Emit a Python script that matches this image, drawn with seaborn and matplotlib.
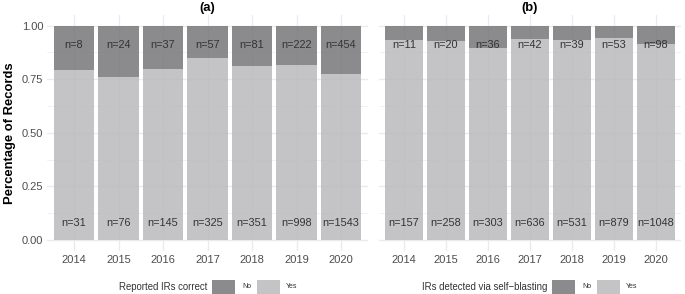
import matplotlib
matplotlib.use("Agg")
import matplotlib.pyplot as plt
from matplotlib.patches import Rectangle
import seaborn as sns
import pandas as pd

# counts per year
years = [2014, 2015, 2016, 2017, 2018, 2019, 2020]
correct_no = [8, 24, 37, 57, 81, 222, 454]
correct_yes = [31, 76, 145, 325, 351, 998, 1543]
selfblast_no = [11, 20, 36, 42, 39, 53, 98]
selfblast_yes = [157, 258, 303, 636, 531, 879, 1048]

panel_titles = ["(a)", "(b)"]
legend_titles = ["Reported IRs correct", "IRs detected via self\u2212blasting"]
answers = ["No", "Yes"]

dark = "#7b7b7e"
light = "#bcbcbf"
palette = {"No": dark, "Yes": light}

sns.set_theme(style="whitegrid")
plt.rcParams["font.family"] = ["Liberation Sans", "DejaVu Sans"]


def to_long(no, yes):
    return pd.DataFrame({
        "year": years * 2,
        "answer": ["No"] * len(years) + ["Yes"] * len(years),
        "count": list(no) + list(yes),
    })


W, H = 685, 294
fig = plt.figure(figsize=(W / 100, H / 100), dpi=100)

# axes boxes in pixels: left, right
boxes = [(47.3, 367.7), (378.8, 681.2)]
top_px, bot_px = 15.0, 250.7
data = [(correct_no, correct_yes), (selfblast_no, selfblast_yes)]
leg_title_right = [207, 547]

for k, ((l, r), (no, yes)) in enumerate(zip(boxes, data)):
    ax = fig.add_axes([l / W, 1 - bot_px / H, (r - l) / W, (bot_px - top_px) / H])
    df = to_long(no, yes)
    sns.histplot(data=df, x="year", hue="answer", weights="count",
                 multiple="fill", discrete=True, shrink=0.9,
                 hue_order=["No", "Yes"], palette=palette, alpha=0.88,
                 linewidth=0, legend=False, ax=ax)

    # n= labels, fixed heights like the original
    for yr, n_no, n_yes in zip(years, no, yes):
        ax.text(yr, 0.91, f"n={n_no}", ha="center", va="center",
                fontsize=7.8, color="#333333")
        ax.text(yr, 0.08, f"n={n_yes}", ha="center", va="center",
                fontsize=7.8, color="#333333")

    ax.set_xlim(years[0] - 0.6, years[-1] + 0.6)
    ax.set_ylim(-0.05, 1.05)
    ax.set_xticks(years)
    ax.set_xticklabels([str(y) for y in years])
    ax.set_yticks([0, 0.25, 0.5, 0.75, 1.0])
    ax.set_yticks([0.125, 0.375, 0.625, 0.875], minor=True)
    if k == 0:
        ax.set_yticklabels(["0.00", "0.25", "0.50", "0.75", "1.00"])
        ax.set_ylabel("Percentage of Records", fontsize=9.4,
                      fontweight="bold", color="black", labelpad=4)
    else:
        ax.set_yticklabels([])
        ax.set_ylabel("")
    ax.set_xlabel("")
    ax.tick_params(axis="both", which="both", length=0, labelsize=8,
                   labelcolor="#4d4d4d", pad=3)
    ax.grid(True, which="major", color="#ebebeb", linewidth=1.0)
    ax.grid(True, which="minor", axis="y", color="#ebebeb", linewidth=0.5)
    ax.set_axisbelow(True)
    for s in ax.spines.values():
        s.set_visible(False)
    ax.set_facecolor("white")

    # panel title above the axes
    fig.text((l + r) / 2 / W, 1 - 8 / H, panel_titles[k], ha="center",
             va="center", fontsize=9.4, fontweight="bold", color="black")

    # legend row drawn in figure pixels
    tr = leg_title_right[k]
    yc = 287
    fig.text(tr / W, 1 - yc / H, legend_titles[k], ha="right", va="center",
             fontsize=6.9, color="#333333")
    for off_patch, off_text, ans in [(5, 35, "No"), (50, 79, "Yes")]:
        fig.patches.append(Rectangle(((tr + off_patch) / W, 1 - 294 / H),
                                     23 / W, 14 / H, transform=fig.transFigure,
                                     facecolor=palette[ans], alpha=0.88,
                                     edgecolor="none"))
        fig.text((tr + off_text) / W, 1 - yc / H, ans, ha="left", va="center",
                 fontsize=5, color="#333333")

fig.savefig("out.png", dpi=100, facecolor="white")
